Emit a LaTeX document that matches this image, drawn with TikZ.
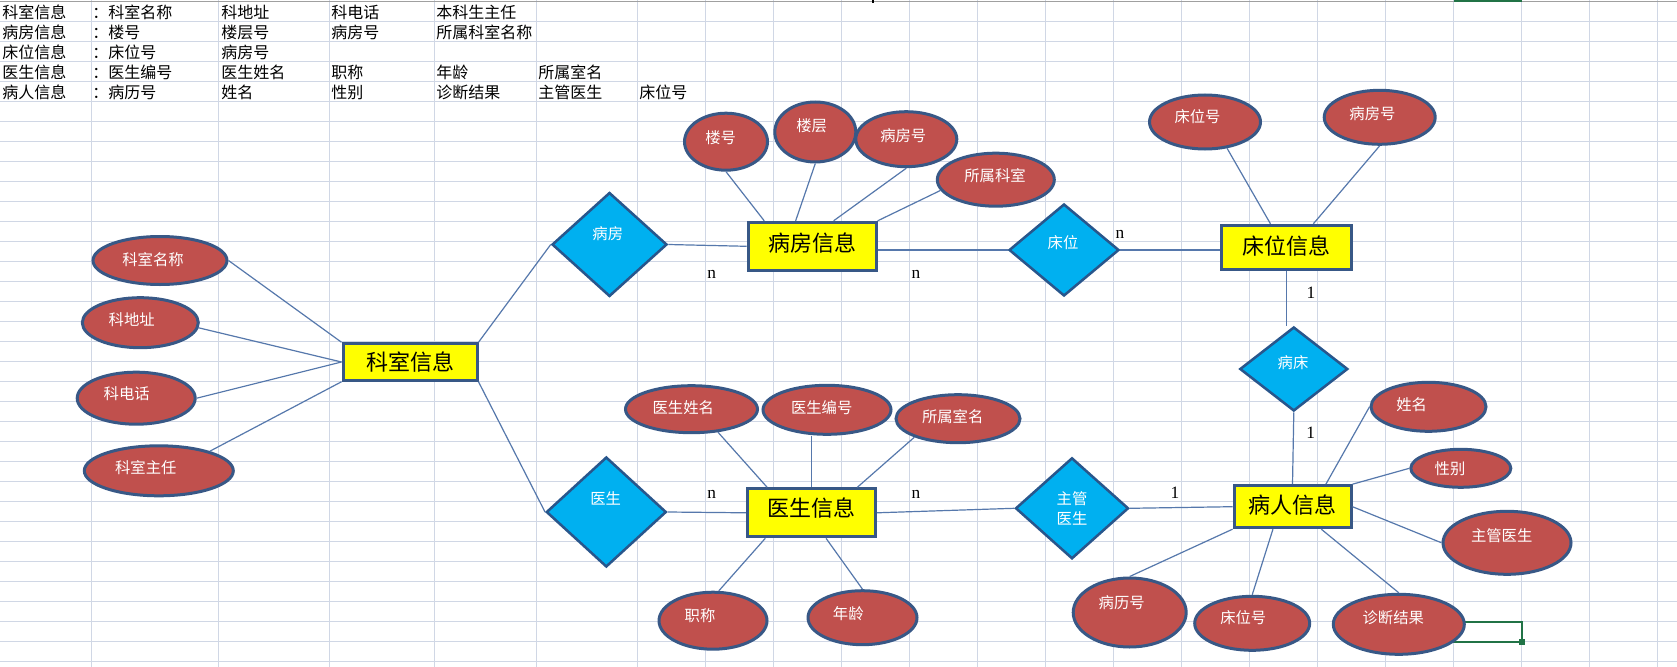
\documentclass[tikz,border=0pt]{standalone}
\usepackage{fontspec}
\setmainfont{Noto Sans CJK SC}
\newfontfamily\latinserif{Liberation Serif}
\usetikzlibrary{shapes.geometric}

\definecolor{gridGray}{RGB}{208,215,229}
\definecolor{headGray}{RGB}{160,160,160}
\definecolor{lineBlue}{RGB}{86,120,172}
\definecolor{borderBlue}{RGB}{56,88,134}
\definecolor{diamondBlue}{RGB}{40,86,140}
\definecolor{entityYellow}{RGB}{255,255,0}
\definecolor{attrRed}{RGB}{192,80,77}
\definecolor{relCyan}{RGB}{0,176,240}
\definecolor{selGreen}{RGB}{33,115,70}

%% move a node text by (dx,dy) pixels inside its shape
\newcommand{\shifttext}[3]{%
  \pgfmathsetlengthmacro\kl{max(0,1.5*(#1))}%
  \pgfmathsetlengthmacro\kr{max(0,-1.5*(#1))}%
  \pgfmathsetlengthmacro\ry{-1.5*(#2)}%
  \raisebox{\ry}{\kern\kl\relax#3\kern\kr\relax}}

\begin{document}
\begin{tikzpicture}
[x=0.75pt,y=-0.75pt,
 gridDecorate/.style={draw=gridGray,line width=0.75pt},
 lineDecorate/.style={-,draw=lineBlue,line width=0.9pt},
 cellDecorate/.style={anchor=west,inner sep=0pt,font=\fontsize{12}{14}\selectfont},
 entityDecorate/.style={shape=rectangle,fill=entityYellow,draw=borderBlue,line width=2.25pt,inner sep=0pt,font=\fontsize{16.5}{18}\selectfont},
 attrDecorate/.style={shape=ellipse,fill=attrRed,draw=borderBlue,line width=2.25pt,inner sep=0pt,text=white,font=\fontsize{11.5}{13}\selectfont},
 relDecorate/.style={shape=diamond,fill=relCyan,draw=diamondBlue,line width=1.9pt,inner sep=0pt,text=white,font=\fontsize{11.5}{14.5}\selectfont},
 cardDecorate/.style={inner sep=0pt,font=\latinserif\fontsize{13}{15}\selectfont}]

\useasboundingbox[fill=white] (0,0) rectangle (1677,667);
%% sheet grid
\foreach \gx in {91.7,218.3,329.3,434.7,536.7}
  \draw[gridDecorate] (\gx,0) -- (\gx,667);
\foreach \i in {0,...,15}
  \draw[gridDecorate] ({637.7+68*\i},0) -- ({637.7+68*\i},667);
\foreach \i in {1,...,33}
  \draw[gridDecorate] (0,{1.7+20*\i}) -- (1677,{1.7+20*\i});
\draw[headGray,line width=1pt] (0,1.2) -- (1677,1.2);
\fill[selGreen] (1453.7,0) rectangle (1521.7,2.5);
\fill (871.5,0) rectangle (873.5,3.5);
\draw[selGreen,line width=1.5pt] (1453.7,621.7) rectangle (1521.7,641.7);
\fill[selGreen] (1518.7,638.7) rectangle (1524.7,644.7);

%% cells of the sheet
\foreach \nodename/\x/\y/\txt in {
  t11/2/12/科室信息, t12/92/12/：科室名称, t13/221/12/科地址, t14/331/12/科电话, t15/436/12/本科生主任,
  t21/2/32/病房信息, t22/92/32/：楼号, t23/221/32/楼层号, t24/331/32/病房号, t25/436/32/所属科室名称,
  t31/2/52/床位信息, t32/92/52/：床位号, t33/221/52/病房号,
  t41/2/72/医生信息, t42/92/72/：医生编号, t43/221/72/医生姓名, t44/331/72/职称, t45/436/72/年龄, t46/538/72/所属室名,
  t51/2/92/病人信息, t52/92/92/：病历号, t53/221/92/姓名, t54/331/92/性别, t55/436/92/诊断结果, t56/538/92/主管医生, t57/639/92/床位号}
{
  \node (\nodename) at (\x,\y) [cellDecorate] {\txt};
}

%% entities
\foreach \nodename/\x/\y/\w/\h/\dy/\txt in {
  ksxx/410/362/134/36.5/0/科室信息,
  bfxx/812.2/246.3/128/48/-4.6/病房信息,
  cwxx/1286.3/247.3/130/44/-2.3/床位信息,
  ysxx/811.3/512.8/128/48/-6/医生信息,
  brxx/1292.5/506.7/117/42/-2.4/病人信息}
{
  \node (\nodename) at (\x,\y) [entityDecorate,minimum width=0.75*\w,minimum height=0.75*\h] {\shifttext{0}{\dy}{\txt}};
}

%% relations
\foreach \nodename/\x/\y/\w/\h/\dx/\dy/\txt in {
  bf/609.5/244.5/115/104/-1.7/-11.5/病房,
  cw/1064/250/110/92/-1/-8/床位,
  ys/606.3/512/120/110/-0.6/-13.7/医生,
  bc/1293.8/369/108/84/-0.8/-6.7/病床}
{
  \node (\nodename) at (\x,\y) [relDecorate,minimum width=0.75*\w,minimum height=0.75*\h] {\shifttext{\dx}{\dy}{\txt}};
}
\node (zgys) at (1072,508.3) [relDecorate,align=center,minimum width=0.75*113,minimum height=0.75*101] {主管\\医生};

%% attributes
\foreach \nodename/\x/\y/\w/\h/\dx/\dy/\txt in {
  ksmc/160/260.5/134/48/-7/-2/科室名称,
  kdz/140.3/322.7/116/50/-8.6/-3.4/科地址,
  kdh/136.2/398.2/118/52/-9.5/-5/科电话,
  kszr/158.8/470.8/149/50/-13/-4/科室主任,
  lh/726/141.7/83/57/-5.3/-5/楼号,
  lc/815.3/132/81/60/-3.6/-7/楼层,
  bfh/906.3/139.2/101/55/-3/-4.2/病房号,
  sskh/995.8/179.7/117/53/-0.8/-4.7/所属科室,
  cwh/1205/122/111/54/-7.5/-6/床位号,
  bfhb/1379.7/117.3/111/54/-7.3/-4.6/病房号,
  ysxm/691.5/409.2/132/47/-8.2/-2.5/医生姓名,
  ysbh/827/409.8/128/49/-5.3/-3.1/医生编号,
  sssm/958/418.7/124/48/-5.3/-2.7/所属室名,
  zc/713/620.7/108/57/-13/-5.7/职称,
  nl/862.5/617.7/109/54/-14.2/-4.4/年龄,
  xm/1428.5/406.8/115/49/-16.8/-2.5/姓名,
  xb/1460.8/468.3/100/38/-10.8/1/性别,
  zgysh/1507/542.8/128/63/-5.3/-7.8/主管医生,
  zdjg/1398.8/624.3/131/60/-5.5/-7/诊断结果,
  blh/1129.7/612.5/113/69/-8/-10.2/病历号,
  cwhb/1252.2/623.3/115/54/-8.9/-6/床位号}
{
  \node (\nodename) at (\x,\y) [attrDecorate,minimum width=0.75*\w,minimum height=0.75*\h] {\shifttext{\dx}{\dy}{\txt}};
}

%% cardinalities
\foreach \nodename/\x/\y/\txt in {
  k1/711.7/274/n, k2/916/274/n, k3/1120/234/n, k4/1311/292.7/1,
  k5/1310.7/432.7/1, k6/1175/492.7/1, k7/916/494/n, k8/711.7/494/n}
{
  \node (\nodename) at (\x,\y) [cardDecorate] {\txt};
}

%% edges or lines
\path
\foreach \startnode/\endnode in {
  ksmc.east/ksxx.north west, kdz.-5/ksxx.west, kdh.east/ksxx.west,
  kszr.21/ksxx.south west, ksxx.north east/bf.west, ksxx.south east/ys.west,
  bf.east/bfxx.west, lh.south/bfxx.152, lc.south/bfxx.123, bfh.south/bfxx.50,
  sskh.191/bfxx.north east, bfxx.east |- cw.west/cw.west,
  cw.east/cwxx.west |- cw.east, cwh.-50/cwxx.124, bfhb.south/cwxx.41,
  cwxx.south/cwxx.south |- bc.north, bc.south/brxx.north,
  ys.east/ysxx.west, ysxm.-41/ysxx.150, ysxx.north/ysxx.north |- ysbh.south,
  sssm.-157/ysxx.29, zc.79/ysxx.-151, nl.north/ysxx.-60,
  ysxx.east/zgys.west, zgys.east/brxx.west,
  xm.west/brxx.34, xb.west/brxx.north east, zgysh.west/brxx.east,
  zdjg.north/brxx.-38, blh.north/brxx.south west, cwhb.north/brxx.-131}
{
  (\startnode) edge[lineDecorate] (\endnode)
};
\end{tikzpicture}
\end{document}
